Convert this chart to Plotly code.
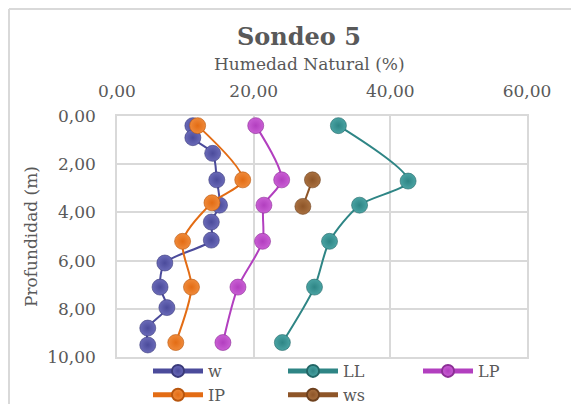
import plotly.graph_objects as go

# Data (depth in m, humidity in %)
w_depth = [0.4, 0.9, 1.55, 2.65, 3.7, 4.4, 5.15, 6.1, 7.1, 7.95, 8.8, 9.5]
w_vals = [11.1, 11.1, 14.0, 14.6, 15.0, 13.8, 13.8, 7.0, 6.3, 7.3, 4.5, 4.5]

ll_depth = [0.4, 2.7, 3.7, 5.2, 7.1, 9.4]
ll_vals = [32.4, 42.6, 35.5, 31.1, 28.9, 24.2]

lp_depth = [0.4, 2.65, 3.7, 5.2, 7.1, 9.4]
lp_vals = [20.3, 24.1, 21.5, 21.3, 17.7, 15.5]

ip_depth = [0.4, 2.65, 3.6, 5.2, 7.1, 9.4]
ip_vals = [11.8, 18.4, 13.9, 9.6, 10.9, 8.6]

ws_depth = [2.65, 3.75]
ws_vals = [28.6, 27.2]

series = [
    ("w", w_vals, w_depth, "#4B4B9B", "#6A6AB8", "#3A3A7A"),
    ("LL", ll_vals, ll_depth, "#2E8585", "#4AA3A3", "#226666"),
    ("LP", lp_vals, lp_depth, "#B23FBF", "#C95ED4", "#8C2F96"),
    ("IP", ip_vals, ip_depth, "#E36C14", "#EF8A3A", "#B8560E"),
    ("ws", ws_vals, ws_depth, "#8E5528", "#A87040", "#6E411E"),
]

fig = go.Figure()
for name, xs, ys, col, light, dark in series:
    fig.add_trace(go.Scatter(
        x=xs, y=ys, name=name, mode="lines+markers",
        line=dict(color=col, width=2, shape="spline", smoothing=0.8),
        marker=dict(size=16, color=light, line=dict(color=dark, width=0.6),
                    gradient=dict(type="radial", color=col)),
    ))

txt = "#595959"
fnt = "DejaVu Serif"
W, H = 579, 404
OFF = 8  # page body margin offset
ml, mt = 117 - OFF, 116 - OFF
pw, ph = 410, 241
mr, mb = W - ml - pw, H - mt - ph

def pxx(sx):
    return (sx - OFF - ml) / pw

def pxy(sy):
    return (H - mb - (sy - OFF)) / ph

fig.update_layout(
    width=W, height=H,
    margin=dict(l=ml, r=mr, t=mt, b=mb, autoexpand=False),
    paper_bgcolor="white", plot_bgcolor="white",
    separators=",.",
    font=dict(family=fnt, color=txt, size=14),
    xaxis=dict(range=[0, 60], dtick=20, tickformat=".2f", side="top", automargin=False,
               showgrid=True, gridcolor="#D9D9D9", gridwidth=1.5,
               showline=True, linecolor="#D9D9D9", linewidth=1.5, mirror=True,
               zeroline=False, ticks="outside", ticklen=10, tickcolor="rgba(0,0,0,0)",
               tickfont=dict(size=17, color=txt)),
    yaxis=dict(range=[10, 0], dtick=2, tickformat=".2f", automargin=False,
               showgrid=True, gridcolor="#D9D9D9", gridwidth=1.5,
               showline=True, linecolor="#D9D9D9", linewidth=1.5, mirror=True,
               zeroline=False, ticks="outside", ticklen=16, tickcolor="rgba(0,0,0,0)",
               tickfont=dict(size=17, color=txt)),
    legend=dict(orientation="h", xref="container", yref="container",
                x=140 / W, xanchor="left", y=1 - 346 / H, yanchor="top",
                entrywidth=70, entrywidthmode="pixels", itemsizing="constant",
                font=dict(size=16, color=txt, family=fnt),
                itemwidth=50, bgcolor="rgba(0,0,0,0)"),
    showlegend=True,
)

# titles as annotations placed in paper coords
fig.add_annotation(text="<b>Sondeo 5</b>", xref="paper", yref="paper",
                   x=pxx(299), y=pxy(36), xanchor="center", yanchor="middle",
                   showarrow=False, font=dict(size=24, color=txt, family=fnt))
fig.add_annotation(text="Humedad Natural (%)", xref="paper", yref="paper",
                   x=pxx(309), y=pxy(64), xanchor="center", yanchor="middle",
                   showarrow=False, font=dict(size=17, color=txt, family=fnt))
fig.add_annotation(text="Profundidad (m)", xref="paper", yref="paper",
                   x=pxx(31), y=pxy(237), xanchor="center", yanchor="middle",
                   textangle=-90, showarrow=False, font=dict(size=17, color=txt, family=fnt))

# outer chart border (top and left visible)
fig.add_shape(type="line", xref="paper", yref="paper",
              x0=pxx(9), x1=pxx(W + 20), y0=pxy(9), y1=pxy(9),
              line=dict(color="#D9D9D9", width=2))
fig.add_shape(type="line", xref="paper", yref="paper",
              x0=pxx(9), x1=pxx(9), y0=pxy(9), y1=pxy(H + 20),
              line=dict(color="#D9D9D9", width=2))

fig.write_html("out.html")
